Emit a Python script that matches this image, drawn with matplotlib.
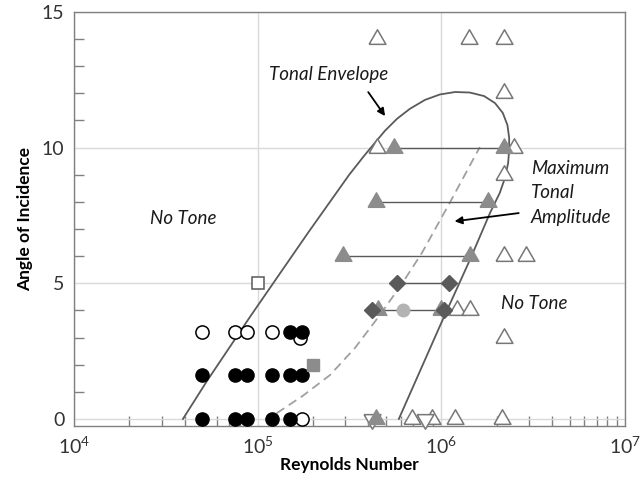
import matplotlib
matplotlib.use("Agg")
import matplotlib.pyplot as plt

plt.rcParams['font.family'] = ['Lato', 'DejaVu Sans']
plt.rcParams['mathtext.fontset'] = 'custom'
plt.rcParams['mathtext.rm'] = 'Lato'

# ---- data ----
# laminar boundary layer tests (circles)
filled_circ_x = [5e4, 7.5e4, 8.7e4, 1.2e5, 1.5e5, 1.75e5,
                 1.5e5, 1.75e5,
                 5e4, 7.5e4, 8.7e4, 1.2e5, 1.5e5]
filled_circ_y = [1.6, 1.6, 1.6, 1.6, 1.6, 1.6,
                 3.2, 3.2,
                 0, 0, 0, 0, 0]
open_circ_x = [5e4, 7.5e4, 8.7e4, 1.2e5, 1.7e5, 1.75e5]
open_circ_y = [3.2, 3.2, 3.2, 3.2, 3.0, 0]

open_sq_x, open_sq_y = [1e5], [5]
gray_sq_x, gray_sq_y = [2e5], [2]

# tonal ranges (filled triangles joined by lines)
tone_lo_x = [5.5e5, 4.4e5, 2.9e5]
tone_hi_x = [2.2e6, 1.8e6, 1.43e6]
tone_y = [10, 8, 6]
extra_tri_x = [4.5e5, 1.0e6, 4.4e5]
extra_tri_y = [4, 4, 0]

# diamonds joined by lines
dia_lo_x = [5.7e5, 4.2e5]
dia_hi_x = [1.1e6, 1.03e6]
dia_y = [5, 4]
light_circ_x, light_circ_y = [6.2e5], [4]

# no tone (open triangles)
open_tri_x = [4.45e5, 1.41e6, 2.2e6, 2.2e6, 4.45e5, 2.5e6, 2.2e6, 2.2e6, 2.9e6,
              1.21e6, 1.43e6, 2.2e6, 6.9e5, 8.85e5, 1.19e6, 2.15e6]
open_tri_y = [14, 14, 14, 12, 10, 10, 9, 6, 6, 4, 4, 3, 0, 0, 0, 0]
down_tri_x = [4.2e5, 8.15e5]
down_tri_y = [0, 0]

# tonal envelope outline
env_x = [3.92e4, 5.3e4, 9.08e4, 1.88e5, 3.15e5, 3.8e5, 4.35e5, 4.93e5, 5.73e5, 6.74e5,
         8.15e5, 9.83e5, 1.19e6, 1.43e6, 1.71e6, 1.96e6, 2.16e6, 2.29e6,
         2.34e6, 2.34e6, 2.31e6, 2.22e6, 2.08e6, 1.84e6, 1.43e6, 9.83e5, 5.87e5]
env_y = [0, 1.4, 3.76, 6.86, 9.0, 9.7, 10.18, 10.62, 11.06, 11.43,
         11.76, 11.96, 12.05, 12.03, 11.9, 11.64, 11.28, 10.83,
         10.36, 9.91, 9.43, 8.88, 8.33, 7.59, 5.86, 3.43, 0]

# maximum tonal amplitude
max_x = [1.27e5, 1.76e5, 2.48e5, 3.39e5, 4.63e5, 6.1e5, 7.84e5, 1.11e6, 1.62e6]
max_y = [0.21, 0.85, 1.62, 2.62, 3.83, 4.98, 6.12, 7.96, 10.02]

# ---- plot ----
fig = plt.figure(figsize=(6.4, 4.79), dpi=100)
ax = fig.add_axes([0.1156, 0.1113, 0.861, 0.8637])
ax.set_xscale('log')
ax.set_xlim(1e4, 1e7)
ax.set_ylim(-0.25, 15)

ax.grid(True, which='major', color='#d9d9d9', lw=1, zorder=0)
ax.set_axisbelow(True)

tri = [(-1, -0.577), (1, -0.577), (0, 1.155), (-1, -0.577)]
tri_dn = [(x, -y) for x, y in tri]

ax.plot(env_x, env_y, color='#5a5a5a', lw=1.3, zorder=2)
ax.plot(max_x, max_y, color='#a0a0a0', lw=1.3, ls=(0, (5, 3)), zorder=2)

for lo, hi, y in zip(tone_lo_x, tone_hi_x, tone_y):
    ax.plot([lo, hi], [y, y], color='#5a5a5a', lw=1, zorder=2)
for lo, hi, y in zip(dia_lo_x, dia_hi_x, dia_y):
    ax.plot([lo, hi], [y, y], color='#5a5a5a', lw=1, zorder=2)

kw = dict(ls='none', clip_on=False, zorder=3)
ax.plot(open_tri_x, open_tri_y, marker=tri, ms=14, mfc='white', mec='#777777', mew=1.1, **kw)
ax.plot(down_tri_x, down_tri_y, marker=tri_dn, ms=14, mfc='white', mec='#777777', mew=1.1, **kw)
ax.plot(tone_lo_x + tone_hi_x + extra_tri_x, tone_y * 2 + extra_tri_y,
        marker=tri, ms=14, mfc='#8c8c8c', mec='#8c8c8c', **kw)
ax.plot(dia_lo_x + dia_hi_x, dia_y * 2, marker='D', ms=8.5, mfc='#5a5a5a', mec='#5a5a5a', **kw)
ax.plot(light_circ_x, light_circ_y, marker='o', ms=9, mfc='#b3b3b3', mec='#b3b3b3', **kw)
ax.plot(open_circ_x, open_circ_y, marker='o', ms=9.5, mfc='white', mec='black', mew=1.1, **kw)
ax.plot(filled_circ_x, filled_circ_y, marker='o', ms=9.5, mfc='black', mec='black', **kw)
ax.plot(open_sq_x, open_sq_y, marker='s', ms=9, mfc='white', mec='#5a5a5a', mew=1.1, **kw)
ax.plot(gray_sq_x, gray_sq_y, marker='s', ms=9, mfc='#8c8c8c', mec='#8c8c8c', **kw)

# labels on the chart
tc = '#1a1a1a'
fs = 13.5
ax.text(2.44e5, 12.68, 'Tonal Envelope', style='italic', fontsize=fs, color=tc,
        ha='center', va='center')
ax.annotate('', xy=(5.04e5, 11.08), xytext=(3.92e5, 12.13),
            arrowprops=dict(arrowstyle='-|>', color='black', lw=1.3, mutation_scale=11))
ax.text(3.08e6, 8.33, 'Maximum\nTonal\nAmplitude', style='italic', fontsize=fs, color=tc,
        ha='left', va='center', linespacing=1.55)
ax.annotate('', xy=(1.14e6, 7.27), xytext=(2.73e6, 7.6),
            arrowprops=dict(arrowstyle='-|>', color='black', lw=1.3, mutation_scale=11))
ax.text(3.92e4, 7.4, 'No Tone', style='italic', fontsize=fs, color=tc, ha='center', va='center')
ax.text(3.19e6, 4.26, 'No Tone', style='italic', fontsize=fs, color=tc, ha='center', va='center')

# axes styling
ax.set_xticks([1e4, 1e5, 1e6, 1e7],
              labels=[r'$\mathregular{10^{4}}$', r'$\mathregular{10^{5}}$',
                      r'$\mathregular{10^{6}}$', r'$\mathregular{10^{7}}$'])
ax.set_yticks([0, 5, 10, 15])
ax.set_yticks(range(0, 16), minor=True)
ax.tick_params(which='major', length=0, labelsize=14, labelcolor='#333333', pad=7)
ax.tick_params(which='minor', direction='in', length=7, color='#808080', width=1)
ax.tick_params(axis='x', which='minor', labelbottom=False)
for s in ax.spines.values():
    s.set_color('#808080')
    s.set_linewidth(1)

ax.set_xlabel('Reynolds Number', fontsize=12.5, fontweight='bold', labelpad=0)
ax.set_ylabel('Angle of Incidence', fontsize=12.5, fontweight='bold', labelpad=6)

fig.savefig('out.png', dpi=100)
